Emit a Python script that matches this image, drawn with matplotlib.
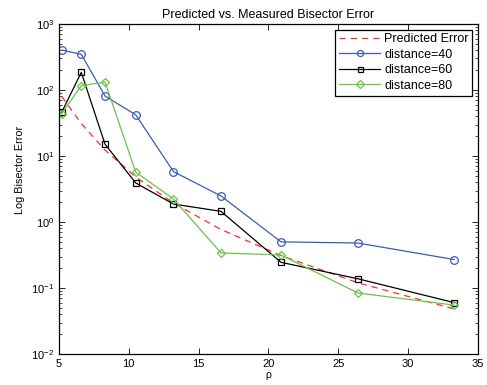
import matplotlib.pyplot as plt
from matplotlib.ticker import LogLocator, NullFormatter

plt.rcParams['font.family'] = ['Liberation Sans', 'DejaVu Sans']

rho = [5.2, 6.6, 8.3, 10.5, 13.2, 16.6, 20.9, 26.4, 33.3]
predicted = [80, 31, 12.3, 4.8, 1.93, 0.77, 0.31, 0.12, 0.048]
dist40 = [403, 347, 81, 42, 5.8, 2.48, 0.50, 0.48, 0.27]
dist60 = [46, 185, 15.1, 3.9, 1.87, 1.45, 0.245, 0.138, 0.06]
dist80 = [44, 116, 132, 5.7, 2.23, 0.34, 0.316, 0.084, 0.055]

fig = plt.figure(figsize=(4.87, 3.85), dpi=100)
ax = fig.add_axes([0.121, 0.0805, 0.8605, 0.8572])

ax.plot(rho, predicted, '--', color='#ff2a2a', lw=0.9, dashes=(5, 4), label='Predicted Error')
ax.plot(rho, dist40, '-o', color='#3a5cb8', lw=0.9, ms=5.5, mfc='none', mew=0.9, label='distance=40')
ax.plot(rho, dist60, '-s', color='black', lw=0.9, ms=4.5, mfc='none', mew=0.9, label='distance=60')
ax.plot(rho, dist80, '-D', color='#6cc24a', lw=0.9, ms=4.5, mfc='none', mew=0.9, label='distance=80')

ax.set_yscale('log')
ax.set_xlim(5, 35)
ax.set_ylim(1e-2, 1e3)
ax.yaxis.set_minor_locator(LogLocator(base=10, subs=range(2, 10)))
ax.yaxis.set_minor_formatter(NullFormatter())

ax.tick_params(which='both', direction='in', top=True, right=True, labelsize=8)
ax.tick_params(which='major', length=4, width=0.6)
ax.tick_params(which='minor', length=2, width=0.5)
for s in ax.spines.values():
    s.set_linewidth(0.9)

ax.set_title('Predicted vs. Measured Bisector Error', fontsize=9, pad=4)
ax.set_xlabel('ρ', fontsize=7.5, labelpad=1)
ax.set_ylabel('Log Bisector Error', fontsize=7.8)
ax.yaxis.set_label_coords(-0.08, 0.557)

leg = ax.legend(loc='upper right', fontsize=9, fancybox=False, framealpha=1,
                edgecolor='black', borderpad=0.3, labelspacing=0.28,
                handlelength=3.3, handletextpad=0.3, borderaxespad=0.45,
                markerscale=0.8)
leg.get_frame().set_linewidth(0.9)

plt.savefig('out.png', dpi=100)
